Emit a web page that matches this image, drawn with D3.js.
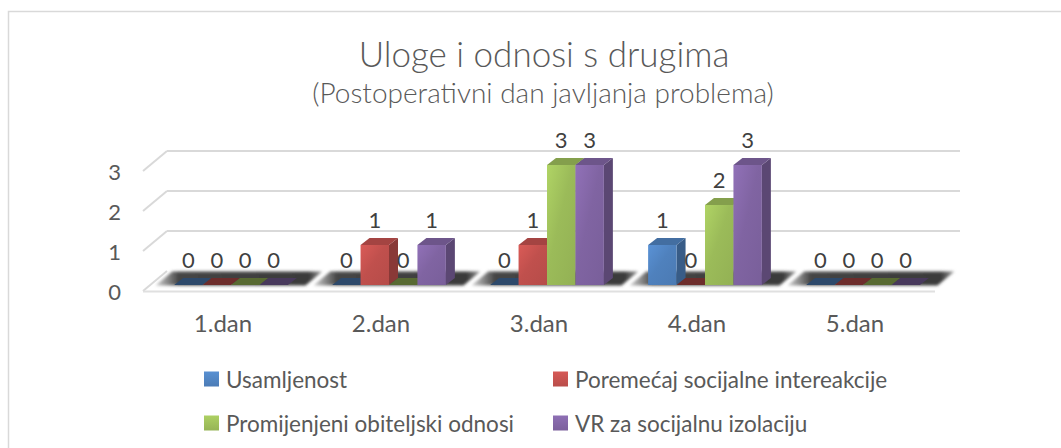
<!DOCTYPE html>
<html>
<head>
<meta charset="utf-8">
<script src="https://cdn.jsdelivr.net/npm/d3@7"></script>
<style>
  html, body { margin: 0; padding: 0; background: #fff; }
  svg { display: block; font-family: Lato, "Open Sans", sans-serif; }
</style>
</head>
<body>
<svg id="chart" width="1061" height="448"></svg>
<script>
// ---- data ----
const categories = ["1.dan", "2.dan", "3.dan", "4.dan", "5.dan"];
const seriesNames = ["Usamljenost", "Poremećaj socijalne intereakcije", "Promijenjeni obiteljski odnosi", "VR za socijalnu izolaciju"];
const usamljenost = [0, 0, 0, 1, 0];
const poremecaj = [0, 1, 1, 0, 0];
const obiteljski = [0, 0, 3, 2, 0];
const vrIzolacija = [0, 1, 3, 3, 0];
const yTicks = [0, 1, 2, 3];
const titleText = "Uloge i odnosi s drugima";
const subtitleText = "(Postoperativni dan javljanja problema)";
const seriesColors = ["#4F81BD", "#C0504D", "#9BBB59", "#8064A2"];

const seriesValues = [usamljenost, poremecaj, obiteljski, vrIzolacija];

const svg = d3.select("#chart");

// ---- geometry ----
const frontX0 = 144, frontX1 = 934;
const depthDX = 24, depthDY = -20;        // floor/wall depth
const barOffX = 8, barOffY = -6;           // bars' front plane relative to floor front
const barDX = 9, barDY = -7;               // bar depth

const x = d3.scaleBand().domain(categories).range([frontX0, frontX1]);
const groupW = x.bandwidth() * 0.72;
const xs = d3.scaleBand().domain(d3.range(seriesNames.length)).range([0, groupW]);
const y = d3.scaleLinear().domain([0, 3]).range([291, 171]);

// ---- defs ----
const defs = svg.append("defs");
seriesColors.forEach((c, i) => {
  const g = defs.append("linearGradient").attr("id", "front" + i)
    .attr("x1", 0).attr("y1", 0).attr("x2", 1).attr("y2", 1);
  g.append("stop").attr("offset", "0%").attr("stop-color", d3.color(c).brighter(0.35));
  g.append("stop").attr("offset", "45%").attr("stop-color", c);
  g.append("stop").attr("offset", "100%").attr("stop-color", d3.color(c).darker(0.15));
  const lg = defs.append("linearGradient").attr("id", "leg" + i)
    .attr("x1", 0).attr("y1", 0).attr("x2", 0).attr("y2", 1);
  lg.append("stop").attr("offset", "0%").attr("stop-color", d3.color(c).brighter(0.3));
  lg.append("stop").attr("offset", "100%").attr("stop-color", d3.color(c).darker(0.1));
});
const sh = defs.append("linearGradient").attr("id", "shadowGrad")
  .attr("x1", 0).attr("y1", 0).attr("x2", 1).attr("y2", 0);
sh.append("stop").attr("offset", "0%").attr("stop-color", "#d0d0d0");
sh.append("stop").attr("offset", "14%").attr("stop-color", "#454545");
sh.append("stop").attr("offset", "92%").attr("stop-color", "#3a3a3a");
sh.append("stop").attr("offset", "100%").attr("stop-color", "#9a9a9a");
defs.append("filter").attr("id", "blur").attr("x", "-10%").attr("y", "-50%").attr("width", "120%").attr("height", "200%")
  .append("feGaussianBlur").attr("stdDeviation", 1.4);

// ---- outer border ----
svg.append("rect").attr("x", 8.5).attr("y", 11.5).attr("width", 1200).attr("height", 600)
  .attr("fill", "none").attr("stroke", "#d9d9d9").attr("stroke-width", 1.5);

// ---- title ----
svg.append("text").attr("x", 544).attr("y", 66.5).attr("text-anchor", "middle")
  .attr("font-size", 35).attr("font-weight", 300).attr("fill", "#595959").text(titleText);
svg.append("text").attr("x", 543).attr("y", 103).attr("text-anchor", "middle")
  .attr("font-size", 28).attr("font-weight", 300).attr("fill", "#595959").text(subtitleText);

// ---- walls / gridlines ----
const grid = svg.append("g").attr("stroke", "#d9d9d9").attr("stroke-width", 2).attr("fill", "none");
yTicks.forEach(v => {
  const yf = y(v);
  grid.append("line").attr("x1", frontX0 - 1).attr("y1", yf).attr("x2", frontX0 - 1 + depthDX).attr("y2", yf + depthDY);
  if (v > 0) {
    grid.append("line").attr("x1", frontX0 - 1 + depthDX).attr("y1", yf + depthDY)
      .attr("x2", frontX1 + depthDX + 2).attr("y2", yf + depthDY);
  }
});
// floor front edge
grid.append("line").attr("x1", frontX0 - 1).attr("y1", y(0) + 0.5).attr("x2", frontX1 + 1).attr("y2", y(0) + 0.5)
  .attr("stroke", "#e0e0e0");

// ---- floor shadows per category ----
const floorG = svg.append("g");
categories.forEach(c => {
  const x0 = x(c) + 5, x1 = x(c) + x.bandwidth() - 3;
  const t0 = 0.27, t1 = 0.97;
  const y0 = y(0);
  const pts = [
    [x0 + depthDX * t0, y0 + depthDY * t0],
    [x1 + depthDX * t0, y0 + depthDY * t0],
    [x1 + depthDX * t1, y0 + depthDY * t1],
    [x0 + depthDX * t1, y0 + depthDY * t1]
  ];
  floorG.append("path").attr("d", d3.line()(pts) + "Z")
    .attr("fill", "url(#shadowGrad)").attr("filter", "url(#blur)");
});

// ---- bars ----
const barsG = svg.append("g");
const labelsG = svg.append("g").attr("font-size", 22).attr("fill", "#404040").attr("text-anchor", "middle");
categories.forEach((c, ci) => {
  const gx = x(c) + (x.bandwidth() - groupW) / 2 + barOffX;
  seriesValues.forEach((vals, si) => {
    const v = vals[ci];
    const bx0 = gx + xs(si), bx1 = bx0 + xs.bandwidth();
    const yb = y(0) + barOffY, yt = y(v) + barOffY;
    const col = d3.color(seriesColors[si]);
    const g = barsG.append("g");
    if (v > 0) {
      g.append("path").attr("d", d3.line()([[bx1, yt], [bx1 + barDX, yt + barDY], [bx1 + barDX, yb + barDY], [bx1, yb]]) + "Z")
        .attr("fill", col.darker(0.95));
      g.append("path").attr("d", d3.line()([[bx0, yt], [bx1, yt], [bx1 + barDX, yt + barDY], [bx0 + barDX, yt + barDY]]) + "Z")
        .attr("fill", col.darker(0.45));
      g.append("rect").attr("x", bx0).attr("y", yt).attr("width", bx1 - bx0).attr("height", yb - yt)
        .attr("fill", "url(#front" + si + ")");
    } else {
      g.append("path").attr("d", d3.line()([[bx0, yb], [bx1, yb], [bx1 + barDX, yb + barDY], [bx0 + barDX, yb + barDY]]) + "Z")
        .attr("fill", col.darker(1.6));
    }
    labelsG.append("text").attr("x", (bx0 + bx1) / 2).attr("y", yt - 17).text(v);
  });
});

// ---- value axis labels ----
const axisG = svg.append("g").attr("font-size", 22).attr("fill", "#595959").attr("text-anchor", "end");
yTicks.forEach(v => {
  axisG.append("text").attr("x", 121).attr("y", y(v) + 8.5).text(v);
});

// ---- category labels ----
const catG = svg.append("g").attr("font-size", 24).attr("fill", "#595959").attr("text-anchor", "middle");
categories.forEach(c => {
  catG.append("text").attr("x", x(c) + x.bandwidth() / 2).attr("y", 332).text(c);
});

// ---- legend ----
const legendPos = [[204, 380], [553, 380], [204, 424], [553, 424]];
const legG = svg.append("g").attr("font-size", 22.5).attr("fill", "#595959");
seriesNames.forEach((n, i) => {
  const [lx, ly] = legendPos[i];
  legG.append("rect").attr("x", lx).attr("y", ly - 8.5).attr("width", 15).attr("height", 15)
    .attr("fill", "url(#leg" + i + ")");
  legG.append("text").attr("x", lx + 22).attr("y", ly + 8).text(n);
});
</script>
</body>
</html>
